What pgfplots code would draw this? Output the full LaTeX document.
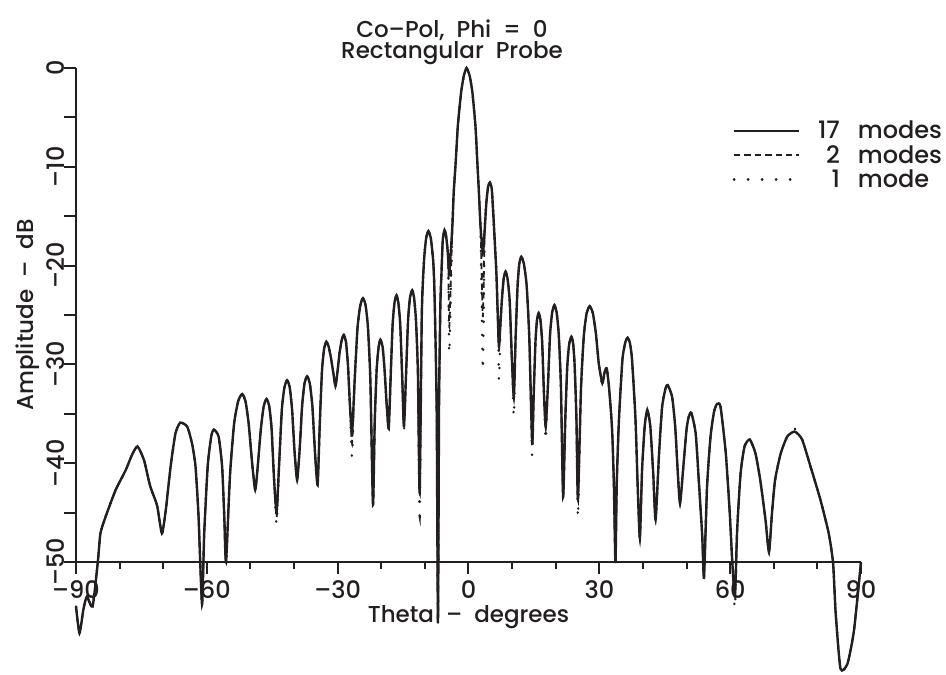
\documentclass[border=0pt]{standalone}
\usepackage{pgfplots}
\pgfplotsset{compat=1.18}
\usepackage{pgfplotstable}
\usepackage{fontspec}
\setmainfont{Poppins}[UprightFont={* Medium}]
\definecolor{ink}{RGB}{35,31,32}

\pgfplotstableread{
x y17 y2 y1
-90 -54.5 -54.5 -54.5
-89.2 -57.2 -57.2 -57.2
-88.3 -54.8 -54.8 -54.8
-87.5 -53.5 -53.5 -53.5
-86.2 -54.5 -54.5 -54.5
-85.0 -50.0 -50.0 -50.0
-84.4 -47.1 -47.1 -47.1
-83.2 -45.4 -45.4 -45.4
-80.9 -42.7 -42.7 -42.7
-78.6 -40.7 -40.7 -40.7
-77.2 -39.2 -39.2 -39.2
-75.9 -38.3 -38.3 -38.3
-74.4 -39.7 -39.7 -39.7
-73.0 -42.3 -42.3 -42.3
-71.4 -44.3 -44.3 -44.3
-70.3 -47.1 -47.1 -47.1
-69.4 -44.7 -44.7 -44.7
-68.3 -40.3 -40.3 -40.3
-67.2 -37.0 -37.0 -37.0
-66.1 -35.9 -35.9 -35.9
-64.5 -36.3 -36.3 -36.3
-63.4 -38.0 -38.0 -38.0
-62.6 -40.3 -40.3 -40.3
-61.9 -45.4 -45.4 -45.4
-61.1 -54.3 -54.3 -54.3
-60.6 -47.1 -47.1 -47.1
-59.8 -40.3 -40.3 -40.3
-59.0 -37.3 -37.3 -37.3
-58.4 -36.6 -36.6 -36.6
-57.3 -37.3 -37.3 -37.3
-56.5 -40.3 -40.3 -40.3
-56.0 -45.4 -45.4 -45.4
-55.6 -50.0 -50.0 -50.0
-54.7 -41.3 -41.3 -41.3
-53.75 -36.0 -36.0 -36.0
-52.8 -33.7 -33.7 -33.7
-51.9 -33.0 -33.0 -33.0
-51.15 -33.7 -33.7 -33.7
-50.4 -36.0 -36.0 -36.0
-49.65 -39.8 -39.8 -39.8
-48.9 -42.7 -42.7 -42.7
-48.25 -39.9 -39.9 -39.9
-47.6 -36.5 -36.5 -36.5
-46.95 -34.2 -34.2 -34.2
-46.3 -33.5 -33.5 -33.5
-45.7 -34.2 -34.2 -34.2
-45.15 -36.5 -36.5 -36.5
-44.6 -41.5 -41.5 -41.5
-44.0 -44.9 -45.5 -46.2
-43.4 -39.9 -39.9 -39.9
-42.8 -34.6 -34.6 -34.6
-42.2 -32.3 -32.3 -32.3
-41.6 -31.6 -31.6 -31.6
-41.0 -32.3 -32.3 -32.3
-40.45 -34.6 -34.6 -34.6
-39.9 -38.7 -38.7 -38.7
-39.3 -41.7 -41.7 -41.7
-38.7 -38.5 -38.5 -38.5
-38.15 -34.2 -34.2 -34.2
-37.6 -31.9 -31.9 -31.9
-37.0 -31.2 -31.2 -31.2
-36.4 -31.9 -31.9 -31.9
-35.8 -34.2 -34.2 -34.2
-35.2 -38.9 -38.9 -38.9
-34.6 -42.2 -42.2 -42.2
-34.1 -36.0 -36.0 -36.0
-33.6 -30.7 -30.7 -30.7
-33.1 -28.4 -28.4 -28.4
-32.6 -27.7 -27.7 -27.7
-32.1 -28.15 -28.15 -28.15
-31.55 -29.3 -29.3 -29.3
-31.0 -30.85 -30.85 -30.85
-30.5 -32.2 -32.2 -32.2
-30.0 -30.6 -30.6 -30.6
-29.55 -28.8 -28.8 -28.8
-29.05 -27.5 -27.5 -27.5
-28.6 -27.0 -27.0 -27.0
-28.1 -27.7 -27.7 -27.7
-27.65 -30.0 -30.0 -30.0
-27.2 -34.0 -34.0 -34.0
-26.7 -37.0 -38.0 -39.4
-26.1 -31.6 -31.6 -31.6
-25.45 -26.3 -26.3 -26.3
-24.8 -24.0 -24.0 -24.0
-24.2 -23.3 -23.3 -23.3
-23.6 -24.0 -24.0 -24.0
-23.05 -26.3 -26.3 -26.3
-22.5 -31.6 -31.6 -31.6
-21.9 -44.2 -44.2 -44.2
-21.5 -35.8 -35.8 -35.8
-21.05 -30.5 -30.5 -30.5
-20.6 -28.2 -28.2 -28.2
-20.2 -27.5 -27.5 -27.5
-19.7 -28.2 -28.2 -28.2
-19.25 -30.5 -30.5 -30.5
-18.8 -33.8 -33.8 -33.8
-18.3 -36.5 -36.5 -36.5
-17.85 -31.3 -31.3 -31.3
-17.4 -26.0 -26.0 -26.0
-16.95 -23.7 -23.7 -23.7
-16.5 -23.0 -23.0 -23.0
-16.1 -23.7 -23.7 -23.7
-15.65 -26.0 -26.0 -26.0
-15.2 -31.3 -31.3 -31.3
-14.8 -36.3 -36.3 -36.7
-14.3 -30.8 -30.8 -30.8
-13.85 -25.5 -25.5 -25.5
-13.4 -23.2 -23.2 -23.2
-12.9 -22.5 -22.5 -22.5
-12.5 -23.2 -23.2 -23.2
-12.05 -25.5 -25.5 -25.5
-11.6 -30.8 -30.8 -30.8
-11.2 -43.0 -43.0 -45.3
-10.7 -24.8 -24.8 -24.8
-10.2 -19.5 -19.5 -19.5
-9.7 -17.2 -17.2 -17.2
-9.2 -16.5 -16.5 -16.5
-8.65 -17.2 -17.2 -17.2
-8.1 -19.5 -19.5 -19.5
-7.8 -22.7 -22.7 -22.7
-7.3 -34.3 -34.3 -34.3
-7.0 -56.2 -56.2 -56.2
-6.75 -34.0 -34.0 -34.0
-6.45 -24.0 -24.0 -24.0
-6.2 -20.8 -20.8 -20.8
-5.9 -17.4 -17.4 -17.4
-5.5 -16.4 -16.4 -16.4
-5.2 -16.8 -16.8 -16.8
-4.9 -17.9 -17.9 -17.9
-4.65 -19.3 -19.3 -19.3
-4.4 -20.8 -26.2 -28.9
-3.7 -16.0 -16.0 -16.0
-3.4 -12.7 -12.7 -12.7
-2.9 -9.3 -9.3 -9.3
-2.45 -5.9 -5.9 -5.9
-1.7 -2.5 -2.5 -2.5
-1.1 -0.85 -0.85 -0.85
-0.45 0 0 0
0.3 -0.85 -0.85 -0.85
0.9 -2.5 -2.5 -2.5
1.6 -5.9 -5.9 -5.9
2.0 -9.3 -9.3 -9.3
2.4 -12.7 -12.7 -12.7
2.75 -16.0 -16.0 -16.0
3.3 -18.7 -25.2 -30.6
3.7 -16.5 -16.5 -16.5
4.1 -13.6 -13.6 -13.6
4.5 -12.0 -12.0 -12.0
4.9 -11.6 -11.6 -11.6
5.35 -12.3 -12.3 -12.3
5.8 -15.7 -15.7 -15.7
6.4 -20.8 -20.8 -20.8
6.8 -26.2 -26.2 -26.2
7.0 -28.2 -28.2 -31.6
7.4 -25.3 -25.3 -25.3
7.75 -22.9 -22.9 -22.9
8.1 -21.2 -21.2 -21.2
8.5 -20.6 -20.6 -20.6
8.95 -21.3 -21.3 -21.3
9.45 -23.6 -23.6 -23.6
9.9 -28.9 -28.9 -28.9
10.4 -33.3 -33.3 -35.3
10.8 -27.4 -27.4 -27.4
11.25 -22.1 -22.1 -22.1
11.65 -19.8 -19.8 -19.8
12.1 -19.1 -19.1 -19.1
12.7 -19.8 -19.8 -19.8
13.35 -22.1 -22.1 -22.1
13.95 -27.4 -27.4 -27.4
14.6 -38.0 -38.0 -39.3
14.95 -33.1 -33.1 -33.1
15.35 -27.8 -27.8 -27.8
15.7 -25.5 -25.5 -25.5
16.1 -24.8 -24.8 -24.8
16.5 -25.5 -25.5 -25.5
16.9 -27.8 -27.8 -27.8
17.3 -32.9 -32.9 -32.9
17.7 -36.3 -36.3 -37.7
18.2 -32.3 -32.3 -32.3
18.7 -27.0 -27.0 -27.0
19.2 -24.7 -24.7 -24.7
19.7 -24.0 -24.0 -24.0
20.2 -24.7 -24.7 -24.7
20.7 -27.0 -27.0 -27.0
21.2 -32.3 -32.3 -32.3
21.7 -43.4 -43.4 -43.4
22.2 -35.5 -35.5 -35.5
22.65 -30.2 -30.2 -30.2
23.1 -27.9 -27.9 -27.9
23.6 -27.2 -27.2 -27.2
24.0 -27.9 -27.9 -27.9
24.35 -30.2 -30.2 -30.2
24.75 -35.5 -35.5 -35.5
25.1 -43.7 -43.7 -45.5
25.8 -32.4 -32.4 -32.4
26.45 -27.1 -27.1 -27.1
27.1 -24.8 -24.8 -24.8
27.8 -24.1 -24.1 -24.1
28.5 -24.8 -24.8 -24.8
29.2 -26.8 -26.8 -26.8
29.9 -30.0 -30.0 -30.0
30.7 -31.9 -31.9 -32.2
31.2 -30.8 -30.8 -30.8
31.7 -30.4 -30.4 -30.4
32.2 -32.2 -32.2 -32.2
32.7 -35.0 -35.0 -35.0
33.0 -37.3 -37.3 -37.3
33.35 -42.4 -42.4 -42.4
33.7 -50.1 -50.1 -50.1
34.0 -42.0 -42.0 -42.0
34.5 -35.6 -35.6 -35.6
35.3 -29.5 -29.5 -29.5
36.0 -27.7 -27.7 -27.7
36.5 -27.3 -27.3 -27.3
37.0 -27.8 -27.8 -27.8
37.5 -29.5 -29.5 -29.5
38.3 -35.6 -35.6 -35.6
38.8 -42.4 -42.4 -42.4
39.3 -47.6 -47.6 -47.6
39.8 -40.7 -40.7 -40.7
40.4 -36.3 -36.3 -36.3
41.0 -34.6 -34.6 -34.6
41.7 -36.3 -36.3 -36.3
42.35 -41.0 -41.0 -41.0
42.9 -45.7 -45.7 -45.7
43.7 -39.0 -39.0 -39.0
44.4 -34.3 -34.3 -34.3
45.2 -32.4 -32.4 -32.4
45.7 -32.1 -32.1 -32.1
46.7 -33.3 -33.3 -33.3
47.4 -36.3 -36.3 -36.3
48.0 -41.0 -41.0 -41.0
48.5 -44.1 -44.1 -44.1
49.2 -40.7 -40.7 -40.7
50.0 -36.6 -36.6 -36.6
50.5 -35.3 -35.3 -35.3
51.1 -34.9 -34.9 -34.9
52.1 -37.0 -37.0 -37.0
52.8 -41.7 -41.7 -41.7
53.6 -47.4 -47.4 -47.4
54.0 -51.6 -51.6 -51.6
54.7 -42.4 -42.4 -42.4
55.5 -37.3 -37.3 -37.3
56.3 -34.8 -34.8 -34.8
57.0 -34.0 -34.0 -34.0
57.8 -34.3 -34.3 -34.3
59.0 -39.0 -39.0 -39.0
59.9 -45.0 -45.0 -45.0
60.5 -50.1 -50.1 -50.1
61.1 -53.5 -53.5 -54.7
61.6 -46.8 -46.8 -46.8
62.4 -41.0 -41.0 -41.0
63.3 -38.3 -38.3 -38.3
64.5 -37.6 -37.6 -37.6
65.8 -39.0 -39.0 -39.0
66.9 -41.7 -41.7 -41.7
68.1 -45.7 -45.7 -45.7
68.9 -49.0 -49.0 -49.0
69.6 -45.0 -45.0 -45.0
70.3 -41.7 -41.7 -41.7
71.6 -39.0 -39.0 -39.0
73.1 -37.3 -37.3 -37.3
74.8 -36.8 -36.8 -36.5
76.5 -37.6 -37.6 -37.6
78.4 -40.3 -40.3 -40.3
80.7 -43.7 -43.7 -43.7
82.6 -47.1 -47.1 -47.1
83.6 -50.1 -50.1 -50.1
84.2 -55.2 -55.2 -55.2
85.3 -60.8 -60.8 -60.8
86.9 -60.3 -60.3 -60.3
88.4 -56.9 -56.9 -56.9
90.0 -50.0 -50.0 -50.0
}\pat

\begin{document}
\begin{tikzpicture}[font=\fontsize{11.5}{13.5}\selectfont]
\useasboundingbox (0,0) rectangle (473pt,337pt);
\begin{axis}[
  at={(38pt,56pt)}, anchor=south west,
  scale only axis, width=392.5pt, height=247pt,
  xmin=-90, xmax=90, ymin=-50, ymax=0,
  axis lines=left, axis line style={-, ink, line width=1pt},
  clip=false,
  xtick={-90,-60,-30,0,30,60,90},
  xticklabels={\textendash90,\textendash60,\textendash30,0,30,60,90},
  minor xtick={-80,-70,-50,-40,-20,-10,10,20,40,50,70,80},
  ytick={-50,-45,-40,-35,-30,-25,-20,-15,-10,-5,0},
  yticklabels={\textendash50,,\textendash40,,\textendash30,,\textendash20,,\textendash10,,0},
  tick align=outside,
  major tick length=6pt, minor tick length=3.5pt,
  tick style={ink, line width=1pt},
  ticklabel style={text=ink, font=\fontsize{12}{14}\selectfont},
  yticklabel style={xshift=4pt, rotate=90, anchor=south},
  xlabel={Theta\ \ \textendash\ \ degrees},
  ylabel={Amplitude\ \ \textendash\ \ dB},
  xlabel style={at={(axis description cs:0.5,-0.112)}, anchor=center, text=ink},
  ylabel style={at={(axis description cs:-0.061,0.5)}, anchor=center, text=ink},
  title={Co\textendash Pol,\ \ Phi\ \ =\ \ 0\\[-3pt]Rectangular\ \ Probe},
  title style={align=center, text=ink,
    at={(axis description cs:0.479,1)}, anchor=south, inner sep=0pt, yshift=-4.5pt},
  legend style={draw=none, fill=none, at={(axis cs:60.5,-5.5)}, anchor=north west,
    text=ink, inner sep=0pt, row sep=4.2pt, column sep=4.9pt,
    font=\fontsize{12}{14}\selectfont,
    nodes={inner sep=0pt, text height=8pt, text depth=0pt}},
  legend cell align=left,
  legend image code/.code={\draw[#1] (0pt,0pt) -- (32.5pt,0pt);},
]
\addplot[ink, line width=1.2pt, smooth, tension=0.35] table[x=x,y=y17]{\pat};
\addlegendentry{\makebox[15pt][r]{17}\hspace{9pt}modes}
\addplot[ink, line width=0.9pt, dash pattern=on 3.2pt off 2pt, smooth, tension=0.35] table[x=x,y=y2]{\pat};
\addlegendentry{\makebox[15pt][r]{2}\hspace{9pt}modes}
\addplot[ink, line width=1.2pt, line cap=round, dash pattern=on 0.2pt off 6.8pt, smooth, tension=0.35] table[x=x,y=y1]{\pat};
\addlegendentry{\makebox[15pt][r]{1}\hspace{9pt}mode}
\end{axis}
\end{tikzpicture}
\end{document}
